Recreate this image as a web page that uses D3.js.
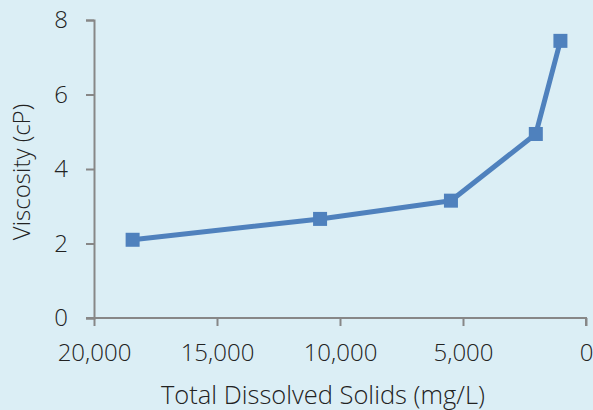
<!DOCTYPE html>
<html>
<head>
<meta charset="utf-8">
<script src="https://cdn.jsdelivr.net/npm/d3@7"></script>
<style>
  html, body { margin: 0; padding: 0; background: #dbeef5; }
  svg { display: block; }
</style>
</head>
<body>
<div id="chart"></div>
<script>
// data
var tds = [18430, 10810, 5490, 2040, 1040];
var viscosity = [2.1, 2.66, 3.15, 4.94, 7.44];
var xTicks = [20000, 15000, 10000, 5000, 0];
var yTicks = [0, 2, 4, 6, 8];

var W = 593, H = 410;
var margin = {top: 20, right: 7, bottom: 92, left: 94};
var width = W - margin.left - margin.right,
    height = H - margin.top - margin.bottom;

var svg = d3.select("#chart")
  .append("svg")
  .attr("width", W)
  .attr("height", H)
  .style("font-family", "'Open Sans', sans-serif");

svg.append("rect")
  .attr("width", W)
  .attr("height", H)
  .attr("fill", "#dbeef5");

var g = svg.append("g")
  .attr("transform", "translate(" + margin.left + "," + margin.top + ")");

// reversed x axis: 20,000 on the left
var x = d3.scaleLinear().domain([20000, 0]).range([0, width]);
var y = d3.scaleLinear().domain([0, 8]).range([height, 0]);

var axisColor = "#878787";
var textColor = "#222";

// Y axis
var yAxis = g.append("g")
  .call(d3.axisLeft(y).tickValues(yTicks).tickSize(8).tickPadding(18));
// X axis
var xAxis = g.append("g")
  .attr("transform", "translate(0," + height + ")")
  .call(d3.axisBottom(x).tickValues(xTicks).tickSize(8).tickPadding(18)
    .tickFormat(d3.format(",")));

[xAxis, yAxis].forEach(function (a) {
  a.select(".domain").attr("stroke", axisColor).attr("stroke-width", 2);
  a.selectAll(".tick line").attr("stroke", axisColor).attr("stroke-width", 2);
  a.selectAll(".tick text")
    .attr("fill", textColor)
    .style("font-size", "24px")
    .style("font-weight", 300)
    .style("font-family", "'Open Sans', sans-serif");
});
// extend x axis line under the y=0 tick
xAxis.select(".domain").attr("d", "M-8,0H" + width + "V8");

// line
var pts = tds.map(function (d, i) { return {x: d, y: viscosity[i]}; });

g.append("path")
  .datum(pts)
  .attr("fill", "none")
  .attr("stroke", "#4f81bd")
  .attr("stroke-width", 5)
  .attr("stroke-linejoin", "round")
  .attr("d", d3.line()
    .x(function (d) { return x(d.x); })
    .y(function (d) { return y(d.y); }));

var ms = 14;
g.selectAll(".marker")
  .data(pts)
  .enter()
  .append("rect")
  .attr("class", "marker")
  .attr("x", function (d) { return x(d.x) - ms / 2; })
  .attr("y", function (d) { return y(d.y) - ms / 2; })
  .attr("width", ms)
  .attr("height", ms)
  .attr("fill", "#4f81bd");

// axis titles
svg.append("text")
  .attr("x", 323)
  .attr("y", 404)
  .attr("text-anchor", "middle")
  .attr("fill", textColor)
  .style("font-size", "25.5px")
  .style("font-weight", 300)
  .text("Total Dissolved Solids (mg/L)");

svg.append("text")
  .attr("transform", "translate(30,172) rotate(-90)")
  .attr("text-anchor", "middle")
  .attr("fill", textColor)
  .style("font-size", "24px")
  .style("font-weight", 300)
  .text("Viscosity (cP)");
</script>
</body>
</html>
